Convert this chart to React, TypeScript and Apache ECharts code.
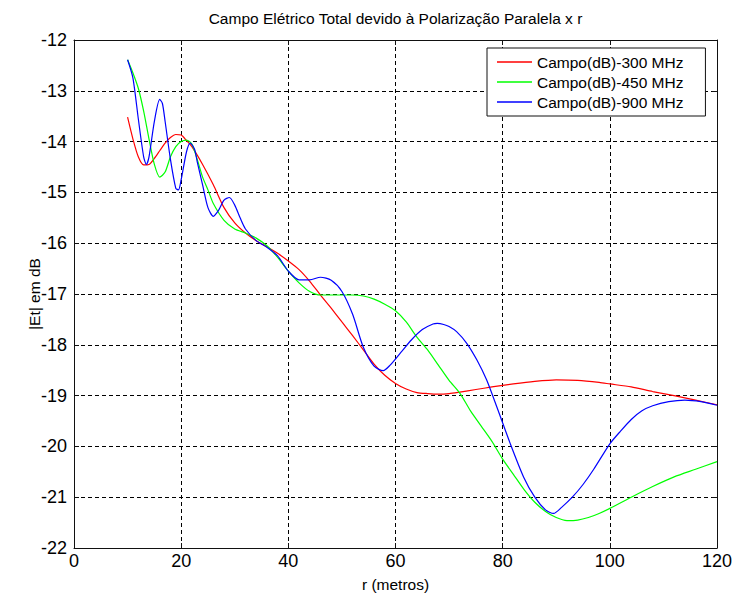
import React, { useEffect, useRef } from "react";
import * as echarts from "echarts";

// Total electric field (dB) versus distance r, parallel polarization
const titleText = "Campo Elétrico Total devido à Polarização Paralela x r";
const xName = "r (metros)";
const yName = "|Et| em dB";
const seriesNames = ["Campo(dB)-300 MHz", "Campo(dB)-450 MHz", "Campo(dB)-900 MHz"];
const seriesColors = ["#ff0000", "#00ff00", "#0000ff"];

const r300 = [10, 11, 12, 13, 14, 15, 16, 17, 18, 19, 20, 21, 22, 24, 26, 28, 30, 32, 34, 36, 38, 40, 42, 44, 46, 48, 50, 52, 54, 56, 58, 60, 62, 64, 66, 68, 70, 72, 75, 78, 82, 86, 90, 94, 98, 100, 104, 108, 112, 116, 120];
const e300 = [-13.52, -13.95, -14.3, -14.46, -14.45, -14.33, -14.18, -14.03, -13.92, -13.86, -13.87, -13.98, -14.1, -14.45, -14.85, -15.3, -15.6, -15.8, -15.95, -16.07, -16.2, -16.35, -16.52, -16.75, -17.02, -17.28, -17.55, -17.82, -18.1, -18.38, -18.6, -18.76, -18.87, -18.94, -18.96, -18.97, -18.96, -18.93, -18.88, -18.83, -18.77, -18.72, -18.69, -18.7, -18.74, -18.77, -18.83, -18.92, -19.0, -19.09, -19.18];

const r450 = [10, 11, 12, 13, 14, 15, 16, 17, 18, 19, 20, 21, 22, 23, 24, 25, 26, 28, 30, 32, 34, 36, 38, 40, 42, 44, 46, 48, 50, 52, 54, 56, 58, 60, 62, 64, 66, 68, 70, 72, 74, 76, 78, 80, 82, 84, 86, 88, 90, 92, 94, 96, 98, 100, 104, 108, 112, 116, 120];
const e450 = [-12.39, -12.65, -12.95, -13.4, -13.95, -14.45, -14.7, -14.6, -14.3, -14.1, -14.0, -13.97, -14.05, -14.35, -14.7, -14.95, -15.22, -15.55, -15.72, -15.8, -15.9, -16.05, -16.28, -16.55, -16.78, -16.95, -17.02, -17.02, -17.02, -17.02, -17.04, -17.1, -17.2, -17.33, -17.55, -17.85, -18.1, -18.4, -18.7, -18.95, -19.3, -19.6, -19.9, -20.25, -20.55, -20.85, -21.1, -21.28, -21.4, -21.46, -21.45, -21.4, -21.32, -21.22, -21.0, -20.79, -20.6, -20.45, -20.3];

const r900 = [10, 11, 12, 13, 13.5, 14, 15, 16, 16.5, 17, 18, 19, 19.5, 20, 21, 21.7, 22.5, 23, 24, 25, 26, 27, 28, 29, 30, 31, 32, 34, 36, 38, 40, 42, 44, 46, 48, 50, 52, 54, 56, 57.7, 59, 61, 63, 65, 67, 67.8, 69, 70, 71.4, 73.3, 75.2, 77, 78.9, 81.4, 83.9, 86, 88, 89.5, 91, 93, 95, 97, 100, 102, 104, 106, 108, 111, 114, 117, 120];
const e900 = [-12.39, -12.75, -13.55, -14.3, -14.45, -14.3, -13.6, -13.17, -13.25, -13.6, -14.35, -14.92, -14.95, -14.75, -14.2, -14.03, -14.15, -14.4, -14.85, -15.3, -15.47, -15.35, -15.15, -15.1, -15.25, -15.5, -15.72, -15.95, -16.08, -16.25, -16.55, -16.72, -16.72, -16.67, -16.73, -16.95, -17.4, -18.05, -18.42, -18.51, -18.4, -18.15, -17.9, -17.7, -17.59, -17.58, -17.6, -17.64, -17.74, -17.97, -18.3, -18.69, -19.22, -19.94, -20.6, -21.0, -21.25, -21.32, -21.2, -21.0, -20.75, -20.45, -19.95, -19.7, -19.47, -19.3, -19.2, -19.12, -19.09, -19.12, -19.19];

const xMin = 0;
const xMax = 120;
const xStep = 20;
const yMin = -22;
const yMax = -12;
const yStep = 1;

const FONT = "'Liberation Sans', Arial, sans-serif";

const zip = (xs: number[], ys: number[]) => xs.map((x, i) => [x, ys[i]]);

export default function App() {
  const ref = useRef<HTMLDivElement>(null);

  useEffect(() => {
    document.body.style.margin = "0";
    if (!ref.current) return;
    const chart = echarts.init(ref.current, undefined, { renderer: "svg" });

    const frameLine = { show: true, onZero: false, lineStyle: { color: "#111", width: 1 } };
    const innerTick = { show: true, inside: true, length: 5, lineStyle: { color: "#111" } };
    const dashed = { show: true, lineStyle: { color: "#000", width: 1, type: [4, 3] as number[] } };

    const dataSets = [zip(r300, e300), zip(r450, e450), zip(r900, e900)];

    chart.setOption({
      animation: false,
      backgroundColor: "#ffffff",
      textStyle: { fontFamily: FONT },
      grid: { left: 74, top: 40, right: 18, bottom: 51, containLabel: false },
      legend: {
        show: true,
        orient: "vertical",
        left: 487,
        top: 48,
        backgroundColor: "#ffffff",
        borderColor: "#111",
        borderWidth: 1,
        borderRadius: 0,
        padding: [6, 22, 6, 10],
        icon: "rect",
        itemWidth: 35,
        itemHeight: 1.5,
        itemGap: 4,
        itemTextGap: 11,
        textStyle: { fontFamily: FONT, fontSize: 15.5, color: "#000", lineHeight: 16 },
        data: seriesNames,
      },
      xAxis: [
        {
          type: "value",
          min: xMin,
          max: xMax,
          interval: xStep,
          position: "bottom",
          name: xName,
          nameLocation: "middle",
          nameGap: 28,
          nameMoveOverlap: false,
          nameTextStyle: { fontFamily: FONT, fontSize: 15.5, color: "#000" },
          axisLine: frameLine,
          axisTick: innerTick,
          axisLabel: { fontFamily: FONT, fontSize: 18, color: "#000", margin: 4 },
          splitLine: dashed,
        },
        {
          type: "value",
          min: xMin,
          max: xMax,
          interval: xStep,
          position: "top",
          name: titleText,
          nameLocation: "middle",
          nameGap: 14,
          nameMoveOverlap: false,
          nameTextStyle: { fontFamily: FONT, fontSize: 15.5, color: "#000" },
          axisLine: frameLine,
          axisTick: innerTick,
          axisLabel: { show: false },
          splitLine: { show: false },
        },
      ],
      yAxis: [
        {
          type: "value",
          min: yMin,
          max: yMax,
          interval: yStep,
          position: "left",
          name: yName,
          nameLocation: "middle",
          nameRotate: 90,
          nameGap: 32,
          nameMoveOverlap: false,
          nameTextStyle: { fontFamily: FONT, fontSize: 15.5, color: "#000" },
          axisLine: frameLine,
          axisTick: innerTick,
          axisLabel: { fontFamily: FONT, fontSize: 18, color: "#000", margin: 7 },
          splitLine: dashed,
        },
        {
          type: "value",
          min: yMin,
          max: yMax,
          interval: yStep,
          position: "right",
          axisLine: frameLine,
          axisTick: innerTick,
          axisLabel: { show: false },
          splitLine: { show: false },
        },
      ],
      series: seriesNames.map((name, i) => ({
        name,
        type: "line",
        xAxisIndex: 0,
        yAxisIndex: 0,
        data: dataSets[i],
        smooth: 0.25,
        symbol: "none",
        showSymbol: false,
        lineStyle: { color: seriesColors[i], width: 1.2 },
        itemStyle: { color: seriesColors[i] },
        z: 3 + i,
      })),
    });

    return () => chart.dispose();
  }, []);

  return <div ref={ref} style={{ width: 735, height: 599 }} />;
}
